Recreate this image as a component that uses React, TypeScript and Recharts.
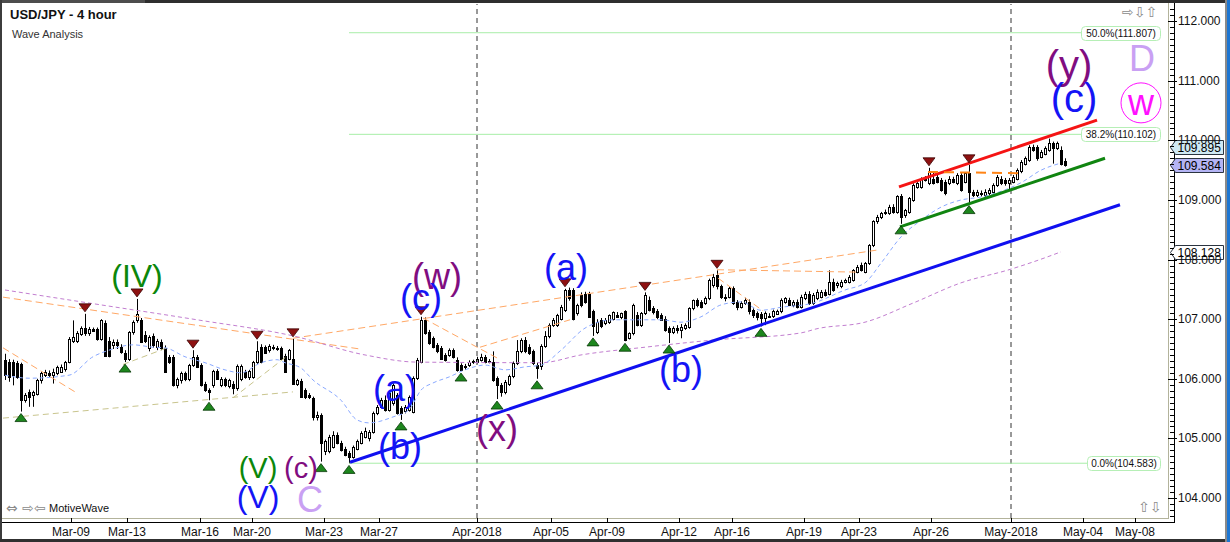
import React from 'react'
import { Bar, ComposedChart, Line, ReferenceLine, Scatter, XAxis, YAxis } from 'recharts'

// 4-hour candles, [open, high, low, close] left to right
const candles: [number, number, number, number][] = [
  [106.31, 106.42, 105.98, 106.06], [106.28, 106.33, 105.95, 106.03], [106.28, 106.32, 105.89, 106.06], [106.26, 106.3, 106.0, 106.03],
  [106.24, 106.27, 105.45, 105.64], [105.64, 105.76, 105.6, 105.73], [105.78, 105.82, 105.53, 105.7], [105.73, 105.8, 105.53, 105.78],
  [105.75, 106.0, 105.72, 105.98], [105.98, 106.12, 105.92, 106.1], [106.06, 106.15, 106.03, 106.12], [106.1, 106.14, 106.03, 106.06],
  [106.07, 106.17, 105.92, 106.12], [106.09, 106.22, 106.06, 106.2], [106.12, 106.24, 106.1, 106.2], [106.17, 106.3, 106.12, 106.28],
  [106.28, 106.7, 106.26, 106.67], [106.64, 106.98, 106.6, 106.7], [106.64, 106.8, 106.6, 106.76], [106.75, 106.88, 106.72, 106.85],
  [106.85, 107.09, 106.72, 106.76], [106.76, 106.87, 106.72, 106.84], [106.84, 106.86, 106.79, 106.81], [106.84, 106.86, 106.64, 106.67],
  [106.67, 107.0, 106.64, 106.98], [106.94, 106.98, 106.37, 106.39], [106.64, 106.7, 106.36, 106.39], [106.56, 106.66, 106.5, 106.62],
  [106.62, 106.66, 106.5, 106.56], [106.53, 106.58, 106.42, 106.45], [106.44, 106.48, 106.28, 106.34], [106.34, 106.8, 106.3, 106.78],
  [106.78, 106.98, 106.74, 106.96], [106.98, 107.34, 106.94, 107.09], [106.98, 107.02, 106.6, 106.62], [106.74, 106.8, 106.6, 106.64],
  [106.51, 106.73, 106.46, 106.7], [106.72, 106.76, 106.52, 106.56], [106.53, 106.67, 106.48, 106.64], [106.62, 106.66, 106.48, 106.51],
  [106.51, 106.56, 106.1, 106.12], [106.37, 106.4, 106.25, 106.28], [106.37, 106.4, 105.87, 105.89], [105.89, 106.02, 105.84, 106.0],
  [105.98, 106.12, 105.92, 106.09], [106.09, 106.12, 105.96, 106.0], [106.0, 106.25, 105.96, 106.23], [106.23, 106.48, 106.2, 106.37],
  [106.37, 106.4, 106.18, 106.2], [106.23, 106.26, 105.87, 105.89], [105.92, 105.95, 105.78, 105.81], [105.81, 105.84, 105.64, 105.78],
  [105.89, 106.15, 105.85, 106.13], [106.13, 106.16, 105.98, 106.0], [105.89, 106.03, 105.86, 106.0], [105.99, 106.02, 105.86, 105.89],
  [105.88, 106.0, 105.84, 105.98], [105.92, 105.96, 105.74, 105.84], [105.84, 106.24, 105.8, 106.22], [106.0, 106.24, 105.96, 106.22],
  [106.12, 106.15, 106.0, 106.03], [106.03, 106.15, 105.98, 106.13], [106.03, 106.3, 106.0, 106.28], [106.28, 106.63, 106.25, 106.46],
  [106.54, 106.58, 106.26, 106.28], [106.53, 106.56, 106.42, 106.44], [106.48, 106.58, 106.44, 106.55], [106.53, 106.57, 106.48, 106.51],
  [106.52, 106.55, 106.47, 106.5], [106.51, 106.54, 106.32, 106.34], [106.39, 106.42, 106.1, 106.12], [106.34, 106.5, 106.31, 106.48],
  [106.34, 106.67, 105.9, 105.92], [105.92, 106.0, 105.88, 105.98], [105.97, 106.0, 105.68, 105.7], [105.81, 105.84, 105.66, 105.7],
  [105.73, 105.76, 105.66, 105.7], [105.67, 105.7, 105.3, 105.36], [105.36, 105.45, 105.3, 105.4], [105.39, 105.42, 104.61, 104.92],
  [104.78, 104.98, 104.72, 104.95], [104.78, 105.06, 104.75, 105.03], [104.86, 105.12, 104.83, 105.06], [105.06, 105.1, 104.9, 104.92],
  [104.92, 104.96, 104.78, 104.81], [104.83, 104.86, 104.7, 104.72], [104.75, 104.79, 104.58, 104.69], [104.69, 104.88, 104.66, 104.86],
  [104.83, 104.98, 104.8, 104.95], [104.92, 105.12, 104.9, 105.09], [105.03, 105.18, 105.0, 105.13], [105.0, 105.14, 104.95, 105.11],
  [105.11, 105.45, 105.08, 105.42], [105.42, 105.56, 105.39, 105.53], [105.53, 105.68, 105.5, 105.65], [105.64, 105.72, 105.45, 105.48],
  [105.48, 105.78, 105.45, 105.76], [105.59, 105.92, 105.55, 105.9], [105.73, 105.76, 105.4, 105.42], [105.51, 105.54, 105.31, 105.42],
  [105.46, 105.56, 105.42, 105.53], [105.48, 105.72, 105.45, 105.7], [105.45, 106.04, 105.42, 106.01], [106.01, 106.35, 105.98, 106.32],
  [106.29, 107.04, 106.26, 106.99], [106.99, 107.03, 106.74, 106.76], [106.79, 106.82, 106.57, 106.6], [106.68, 106.71, 106.51, 106.54],
  [106.57, 106.6, 106.43, 106.46], [106.51, 106.55, 106.32, 106.34], [106.4, 106.43, 106.29, 106.32], [106.4, 106.51, 106.37, 106.48],
  [106.48, 106.51, 106.34, 106.37], [106.32, 106.36, 106.12, 106.15], [106.23, 106.26, 106.13, 106.15], [106.2, 106.25, 106.15, 106.22],
  [106.23, 106.31, 106.2, 106.28], [106.28, 106.32, 106.25, 106.3], [106.29, 106.37, 106.26, 106.34], [106.32, 106.42, 106.29, 106.37],
  [106.37, 106.4, 106.26, 106.29], [106.3, 106.33, 106.26, 106.29], [106.29, 106.46, 105.95, 105.98], [106.01, 106.04, 105.66, 105.9],
  [105.9, 105.93, 105.7, 105.78], [105.78, 105.98, 105.74, 105.95], [105.92, 106.07, 105.88, 106.04], [106.04, 106.29, 106.01, 106.26],
  [106.26, 106.65, 106.23, 106.46], [106.46, 106.68, 106.43, 106.65], [106.65, 106.7, 106.43, 106.46], [106.54, 106.58, 106.4, 106.43],
  [106.46, 106.49, 106.23, 106.26], [106.23, 106.27, 106.0, 106.18], [106.21, 106.58, 106.15, 106.55], [106.55, 106.8, 106.52, 106.71],
  [106.71, 106.93, 106.68, 106.9], [106.9, 107.02, 106.87, 106.99], [106.9, 107.09, 106.87, 107.07], [107.01, 107.24, 106.98, 107.21],
  [107.15, 107.51, 107.12, 107.49], [107.49, 107.53, 107.31, 107.35], [107.49, 107.52, 106.98, 107.01], [107.1, 107.26, 107.06, 107.24],
  [107.4, 107.45, 107.2, 107.24], [107.43, 107.46, 107.26, 107.29], [107.43, 107.46, 107.02, 107.04], [107.13, 107.16, 106.72, 106.88],
  [106.79, 107.0, 106.75, 106.96], [106.98, 107.02, 106.85, 106.88], [106.93, 107.02, 106.9, 106.99], [106.96, 107.08, 106.92, 107.07],
  [107.01, 107.13, 106.98, 107.12], [107.07, 107.12, 107.02, 107.04], [107.04, 107.11, 107.0, 107.1], [107.13, 107.15, 106.63, 106.65],
  [106.68, 106.78, 106.66, 106.76], [106.76, 107.26, 106.73, 107.24], [107.07, 107.12, 106.88, 106.9], [106.9, 107.12, 106.87, 107.1],
  [107.1, 107.45, 107.07, 107.41], [107.32, 107.38, 107.13, 107.15], [107.18, 107.22, 107.08, 107.12], [107.14, 107.17, 107.0, 107.04],
  [107.07, 107.1, 106.97, 106.99], [107.01, 107.05, 106.79, 106.82], [106.85, 106.88, 106.6, 106.79], [106.79, 106.88, 106.75, 106.85],
  [106.86, 106.9, 106.76, 106.82], [106.82, 106.92, 106.68, 106.87], [106.85, 106.93, 106.82, 106.9], [106.87, 107.2, 106.84, 107.18],
  [107.18, 107.33, 107.15, 107.32], [107.32, 107.35, 107.2, 107.24], [107.29, 107.32, 107.18, 107.21], [107.27, 107.38, 107.24, 107.35],
  [107.35, 107.68, 107.32, 107.66], [107.57, 107.76, 107.53, 107.71], [107.74, 107.82, 107.5, 107.55], [107.55, 107.58, 107.34, 107.38],
  [107.37, 107.42, 107.3, 107.35], [107.38, 107.54, 107.35, 107.52], [107.52, 107.55, 107.24, 107.27], [107.29, 107.32, 107.15, 107.21],
  [107.21, 107.3, 107.18, 107.27], [107.27, 107.36, 107.24, 107.33], [107.29, 107.33, 107.08, 107.13], [107.15, 107.18, 107.02, 107.07],
  [107.1, 107.13, 106.98, 107.04], [107.09, 107.12, 106.88, 107.02], [107.02, 107.13, 106.9, 107.1], [107.06, 107.1, 107.02, 107.05],
  [107.05, 107.16, 107.02, 107.13], [107.09, 107.16, 107.07, 107.13], [107.13, 107.35, 107.1, 107.32], [107.29, 107.37, 107.26, 107.35],
  [107.32, 107.36, 107.22, 107.24], [107.24, 107.32, 107.2, 107.29], [107.29, 107.33, 107.18, 107.21], [107.21, 107.41, 107.18, 107.38],
  [107.35, 107.46, 107.32, 107.43], [107.43, 107.47, 107.24, 107.27], [107.27, 107.44, 107.24, 107.41], [107.35, 107.5, 107.32, 107.46],
  [107.38, 107.49, 107.35, 107.46], [107.46, 107.5, 107.38, 107.4], [107.43, 107.82, 107.4, 107.63], [107.63, 107.68, 107.46, 107.49],
  [107.57, 107.63, 107.52, 107.61], [107.55, 107.66, 107.52, 107.63], [107.63, 107.68, 107.6, 107.66], [107.63, 107.74, 107.6, 107.71],
  [107.66, 107.84, 107.63, 107.82], [107.8, 107.91, 107.77, 107.88], [107.91, 107.95, 107.8, 107.82], [107.8, 107.96, 107.77, 107.94],
  [107.94, 108.26, 107.91, 108.24], [108.24, 108.66, 108.21, 108.64], [108.64, 108.75, 108.6, 108.72], [108.72, 108.8, 108.68, 108.78],
  [108.78, 108.84, 108.75, 108.8], [108.78, 108.92, 108.75, 108.89], [108.89, 108.93, 108.77, 108.8], [108.8, 109.08, 108.77, 109.06],
  [109.06, 109.1, 108.6, 108.72], [108.75, 108.85, 108.7, 108.83], [108.8, 109.05, 108.77, 109.03], [109.0, 109.28, 108.97, 109.25],
  [109.22, 109.3, 109.19, 109.28], [109.22, 109.38, 109.19, 109.36], [109.36, 109.4, 109.31, 109.34], [109.28, 109.54, 109.25, 109.48],
  [109.36, 109.48, 109.26, 109.28], [109.39, 109.42, 109.28, 109.31], [109.34, 109.37, 109.14, 109.17], [109.31, 109.34, 109.08, 109.11],
  [109.28, 109.4, 109.25, 109.36], [109.36, 109.39, 109.28, 109.31], [109.28, 109.45, 109.25, 109.42], [109.42, 109.45, 109.14, 109.17],
  [109.31, 109.47, 109.28, 109.45], [109.45, 109.59, 108.94, 109.14], [109.14, 109.17, 109.05, 109.08], [109.08, 109.17, 109.05, 109.14],
  [109.1, 109.16, 109.06, 109.12], [109.08, 109.18, 109.05, 109.14], [109.11, 109.2, 109.08, 109.17], [109.14, 109.28, 109.11, 109.25],
  [109.25, 109.42, 109.22, 109.39], [109.36, 109.4, 109.25, 109.28], [109.34, 109.37, 109.24, 109.28], [109.28, 109.37, 109.18, 109.34],
  [109.31, 109.42, 109.28, 109.39], [109.36, 109.53, 109.33, 109.5], [109.48, 109.67, 109.45, 109.64], [109.61, 109.73, 109.58, 109.7],
  [109.67, 109.92, 109.64, 109.89], [109.89, 109.93, 109.81, 109.84], [109.89, 109.92, 109.66, 109.7], [109.73, 109.84, 109.7, 109.81],
  [109.78, 109.9, 109.75, 109.87], [109.84, 110.03, 109.81, 109.95], [109.95, 109.98, 109.61, 109.87], [109.87, 109.98, 109.84, 109.95],
  [109.84, 109.9, 109.58, 109.61], [109.66, 109.7, 109.56, 109.58],
]

// moving averages, [candle index, value]
const fastMa: [number, number][] = [
  [0, 106.06], [6, 106.01], [16, 106.06], [22, 106.37], [26, 106.48], [32, 106.57], [37, 106.53], [40, 106.52], [45, 106.37],
  [50, 106.27], [55, 106.15], [59, 106.1], [64, 106.27], [68, 106.32], [70, 106.27], [74, 106.18], [77, 105.98], [84, 105.64],
  [88, 105.31], [91, 105.26], [97, 105.36], [101, 105.48], [104, 105.81], [107, 105.93], [111, 106.03], [115, 106.15], [120, 106.23],
  [125, 106.15], [130, 106.2], [134, 106.23], [139, 106.48], [145, 106.85], [152, 106.99], [158, 106.99], [164, 106.99], [169, 106.95],
  [174, 107.04], [179, 107.24], [184, 107.29], [189, 107.15], [194, 107.2], [202, 107.27], [210, 107.49], [215, 107.61], [219, 107.94],
  [224, 108.38], [229, 108.66], [234, 108.88], [239, 109.0], [244, 109.05], [250, 109.17], [254, 109.29], [259, 109.5], [264, 109.62],
]
const slowMa: [number, number][] = [
  [0, 107.49], [24, 107.24], [48, 106.99], [72, 106.72], [90, 106.4], [103, 106.28], [134, 106.27], [144, 106.4], [160, 106.53],
  [177, 106.65], [199, 106.77], [203, 106.84], [215, 106.95], [227, 107.27], [239, 107.61], [251, 107.83], [257, 107.96], [264, 108.13],
]

const swingHighs = [20, 33, 47, 63, 72, 104, 140, 160, 178, 231, 241]
const swingLows = [4, 30, 51, 79, 86, 99, 114, 123, 133, 147, 155, 166, 189, 224, 241]

const dateTicks = [16.5, 30.5, 48.75, 61.75, 79.75, 93.5, 118, 136.5, 150.5, 168.5, 181.75, 199.75, 213.5, 231.5, 251.5, 269.5, 282.5]
const dateLabels = ['Mar-09', 'Mar-13', 'Mar-16', 'Mar-20', 'Mar-23', 'Mar-27', 'Apr-2018', 'Apr-05', 'Apr-09', 'Apr-12', 'Apr-16', 'Apr-19', 'Apr-23', 'Apr-26', 'May-2018', 'May-04', 'May-08']
const monthStarts = [118, 251.5]
const priceLabels = [104, 105, 106, 107, 108, 109, 110, 111, 112]

const fibNames = ['50.0%', '38.2%', '0.0%']
const fibValues = [111.807, 110.102, 104.583]
const fibFrom = 86
const fibTo = [269, 269, 270.5]

// wave trend lines, [[index, price], [index, price]]
const baseLine: [number, number][] = [[86.25, 104.6], [278.75, 108.92]]
const upperLine: [number, number][] = [[223.5, 109.22], [273, 110.34]]
const lowerLine: [number, number][] = [[223.75, 108.55], [275, 109.7]]
const pivotLine: [number, number][] = [[230.75, 109.47], [254.2, 109.45]]
const orangeGuides: [number, number][][] = [
  [[-0.5, 107.37], [88.75, 106.5]],
  [[72, 106.68], [218, 108.16]],
  [[178, 107.83], [213, 107.79]],
  [[-0.5, 106.52], [18, 105.76]],
  [[104.5, 107.02], [123, 106.35]],
  [[118.75, 106.53], [141.25, 106.99]],
  [[178.25, 107.69], [189.5, 107.14]],
]
const khakiGuides: [number, number][][] = [
  [[-0.5, 105.34], [72, 105.78]],
  [[29.5, 106.24], [40.5, 106.52]],
  [[57, 105.68], [70.5, 106.38]],
]

const waveLabels = [
  { text: '(IV)', i: 33, p: 107.72, tone: 'green', size: 'm' },
  { text: '(w)', i: 108, p: 107.72, tone: 'purple', size: 'l' },
  { text: '(c)', i: 104, p: 107.37, tone: 'blue', size: 'l' },
  { text: '(a)', i: 97.5, p: 105.83, tone: 'blue', size: 'l' },
  { text: '(b)', i: 98.75, p: 104.86, tone: 'blue', size: 'l' },
  { text: '(x)', i: 123, p: 105.17, tone: 'purple', size: 'l' },
  { text: '(a)', i: 140.25, p: 107.86, tone: 'blue', size: 'l' },
  { text: '(b)', i: 169, p: 106.15, tone: 'blue', size: 'l' },
  { text: '(V)', i: 63.25, p: 104.5, tone: 'green', size: 's' },
  { text: '(c)', i: 74, p: 104.5, tone: 'purple', size: 's' },
  { text: '(V)', i: 63.25, p: 104.02, tone: 'blue', size: 'm' },
  { text: 'C', i: 76.25, p: 103.98, tone: 'lilac', size: 'l' },
  { text: '(y)', i: 266, p: 111.27, tone: 'purple', size: 'xl' },
  { text: 'D', i: 284.25, p: 111.38, tone: 'lilac', size: 'l' },
  { text: '(c)', i: 267.25, p: 110.71, tone: 'blue', size: 'xl' },
  { text: 'w', i: 284, p: 110.63, tone: 'magenta', size: 'l' },
]
const toneColors: Record<string, string> = {
  green: '#0b870b', blue: '#1414f5', purple: '#800d80', lilac: '#c9a0f3', magenta: '#ff10ff',
}
const fontSizes: Record<string, number> = { s: 29, m: 32, l: 36, xl: 40 }

const rows = candles.map((c, i) => {
  const f = fastMa.find((m) => m[0] === i)
  const s = slowMa.find((m) => m[0] === i)
  return { i, range: [c[2], c[1]], ohlc: c, fast: f ? f[1] : undefined, slow: s ? s[1] : undefined }
})
const highMarks = swingHighs.map((i) => ({ i, p: candles[i][1] }))
const lowMarks = swingLows.map((i) => ({ i, p: candles[i][2] }))
const priceTicks: number[] = []
for (let k = 1037; k <= 1122; k++) priceTicks.push(k / 10)

const seg = (s: [number, number][]) => s.map(([x, y]) => ({ x, y }))

function Candle(props: any) {
  const { x, y, width, height, payload } = props
  if (!payload) return null
  const [o, h, l, c] = payload.ohlc
  const cx = Math.round(x + width / 2) + 0.5
  const py = (v: number) => y + ((h - v) / (h - l)) * height
  const top = Math.round(py(Math.max(o, c))) + 0.5
  const bot = Math.max(Math.round(py(Math.min(o, c))) + 0.5, top + 1)
  return (
    <g>
      <line x1={cx} x2={cx} y1={y} y2={y + height} stroke="#000" />
      <rect x={cx - 1} y={top} width={2} height={bot - top} fill={c >= o ? '#fff' : '#000'} stroke="#000" />
    </g>
  )
}

const HighMark = ({ cx, cy }: any) => (
  <path d={`M${cx - 6},${cy - 10} L${cx + 6},${cy - 10} L${cx},${cy - 2} Z`} fill="#8e1111" stroke="#3b0505" strokeWidth={0.8} />
)
const LowMark = ({ cx, cy }: any) => (
  <path d={`M${cx - 6},${cy + 10} L${cx + 6},${cy + 10} L${cx},${cy + 2} Z`} fill="#1d861d" stroke="#073807" strokeWidth={0.8} />
)

const WaveText = ({ cx, cy, payload }: any) => {
  const color = toneColors[payload.tone]
  return (
    <g>
      {payload.tone === 'magenta' && <circle cx={cx} cy={cy} r={20} fill="none" stroke={color} strokeWidth={1} />}
      <text x={cx} y={cy} textAnchor="middle" dominantBaseline="central" fontSize={fontSizes[payload.size]} fill={color}>
        {payload.text}
      </text>
    </g>
  )
}

const FibTag = ({ viewBox, text }: any) => {
  if (!viewBox) return null
  const x = Math.round(viewBox.x + viewBox.width) + 0.5
  const y = Math.round(viewBox.y) + 0.5
  const w = Math.round(text.length * 5.65)
  return (
    <g>
      <rect x={x} y={y - 7} width={w} height={14} rx={4} fill="#fff" stroke="#b6efb6" />
      <text x={x + w / 2} y={y} textAnchor="middle" dominantBaseline="central" fontSize={10} fill="#111">{text}</text>
    </g>
  )
}

const PriceTag = ({ viewBox, text, fill }: any) => {
  if (!viewBox) return null
  const x = Math.round(viewBox.x + viewBox.width) + 2.5
  const y = Math.round(viewBox.y) + 0.5
  return (
    <g>
      <path d={`M${x},${y} L${x + 5},${y - 7} L${x + 53},${y - 7} L${x + 53},${y + 7} L${x + 5},${y + 7} Z`} fill={fill} stroke="#2b3440" />
      <text x={x + 7} y={y + 0.5} dominantBaseline="central" fontSize={12} fill="#000">{text}</text>
    </g>
  )
}

const DateTick = ({ x, y, payload }: any) => {
  const k = dateTicks.indexOf(payload.value)
  const tx = Math.round(x) + 0.5
  return (
    <g>
      <line x1={tx} x2={tx} y1={y} y2={y + 5} stroke="#000" />
      <text x={x} y={y + 14} textAnchor="middle" dominantBaseline="central" fontSize={12} fill="#111">{dateLabels[k]}</text>
    </g>
  )
}

const PriceTick = ({ x, y, payload }: any) => {
  const v = payload.value
  const major = priceLabels.includes(v)
  const ty = Math.round(y) + 0.5
  return (
    <g>
      <line x1={major ? x : x + 2} x2={major ? x + 9 : x + 6} y1={ty} y2={ty} stroke="#000" />
      {major && (
        <text x={x + 10} y={y} dominantBaseline="central" fontSize={12} fill="#111">{v.toFixed(3)}</text>
      )}
    </g>
  )
}

const box = (s: React.CSSProperties): React.CSSProperties => ({ position: 'absolute', ...s })
const icon: React.CSSProperties = { fontSize: 14, lineHeight: '16px', color: '#8a8a8a', fontFamily: '"DejaVu Sans"', zIndex: 2, whiteSpace: 'nowrap' }

export default function App() {
  return (
    <div style={{ position: 'absolute', left: 0, top: 0, width: 1230, height: 542, background: '#fff', overflow: 'hidden', fontFamily: '"Liberation Sans", Arial, sans-serif' }}>
      <div style={box({ left: 1168, top: 3, width: 1, height: 516, background: '#b3b39b' })} />
      <div style={box({ left: 2, top: 518, width: 1167, height: 1, background: '#b3b39b' })} />
      <div style={box({ left: 1174, top: 3, width: 1, height: 520, background: '#000' })} />
      <div style={box({ left: 2, top: 522, width: 1173, height: 1, background: '#000' })} />
      <div style={box({ left: 0, top: 0, zIndex: 1 })}>
        <ComposedChart width={1230} height={542} data={rows} margin={{ top: 4, right: 4, bottom: 4, left: 2 }}>
          <XAxis dataKey="i" type="number" domain={[-0.75, 290.75]} allowDataOverflow ticks={dateTicks} interval={0}
            height={20} axisLine={false} tickLine={false} tickSize={0} tickMargin={0} tick={<DateTick />} />
          <YAxis orientation="right" type="number" domain={[103.664, 112.289]} allowDataOverflow ticks={priceTicks} interval={0}
            width={58} axisLine={false} tickLine={false} tickSize={0} tickMargin={0} tick={<PriceTick />} />
          {monthStarts.map((m) => (
            <ReferenceLine key={m} x={m} stroke="#333" strokeDasharray="5 4" ifOverflow="visible" />
          ))}
          {fibValues.map((v, k) => (
            <ReferenceLine key={v} segment={[{ x: fibFrom, y: v }, { x: fibTo[k], y: v }]} stroke="#a8eea8" ifOverflow="visible"
              label={(p: any) => <FibTag {...p} text={`${fibNames[k]}(${v.toFixed(3)})`} />} />
          ))}
          {khakiGuides.map((g, k) => (
            <ReferenceLine key={'k' + k} segment={seg(g)} stroke="#c9c58e" strokeDasharray="6 4" ifOverflow="visible" />
          ))}
          {orangeGuides.map((g, k) => (
            <ReferenceLine key={'o' + k} segment={seg(g)} stroke="#ffa866" strokeDasharray="7 4" ifOverflow="visible" />
          ))}
          <Line dataKey="slow" type="monotone" connectNulls dot={false} stroke="#c27ed0" strokeDasharray="4 3" strokeWidth={1} isAnimationActive={false} />
          <Line dataKey="fast" type="monotone" connectNulls dot={false} stroke="#8aa9ff" strokeDasharray="4 3" strokeWidth={1} isAnimationActive={false} />
          <Bar dataKey="range" barSize={3} shape={<Candle />} isAnimationActive={false} />
          <ReferenceLine segment={seg(baseLine)} stroke="#1010f0" strokeWidth={3} ifOverflow="visible" />
          <ReferenceLine segment={seg(upperLine)} stroke="#f51414" strokeWidth={3} ifOverflow="visible" />
          <ReferenceLine segment={seg(lowerLine)} stroke="#108510" strokeWidth={3} ifOverflow="visible" />
          <ReferenceLine segment={seg(pivotLine)} stroke="#ff8415" strokeWidth={2} strokeDasharray="10 6" ifOverflow="visible" />
          <Scatter data={highMarks} dataKey="p" shape={<HighMark />} isAnimationActive={false} />
          <Scatter data={lowMarks} dataKey="p" shape={<LowMark />} isAnimationActive={false} />
          <Scatter data={waveLabels} dataKey="p" shape={<WaveText />} isAnimationActive={false} />
          <ReferenceLine y={108.128} stroke="none" ifOverflow="visible" label={(p: any) => <PriceTag {...p} text="108.128" fill="#fff" />} />
          <ReferenceLine y={109.895} stroke="none" ifOverflow="visible" label={(p: any) => <PriceTag {...p} text="109.895" fill="#cfe9f3" />} />
          <ReferenceLine y={109.584} stroke="none" ifOverflow="visible" label={(p: any) => <PriceTag {...p} text="109.584" fill="#b4b4f4" />} />
        </ComposedChart>
      </div>
      <div style={box({ left: 10, top: 8, fontSize: 13, fontWeight: 'bold', lineHeight: '14px', color: '#111', zIndex: 2 })}>USD/JPY - 4 hour</div>
      <div style={box({ left: 12, top: 28, fontSize: 11, lineHeight: '12px', color: '#333', zIndex: 2 })}>Wave Analysis</div>
      <div style={box({ left: 6, top: 500, ...icon })}>⇔ ⇨⇦</div>
      <div style={box({ left: 49, top: 502, fontSize: 11, lineHeight: '12px', color: '#111', zIndex: 2 })}>MotiveWave</div>
      <div style={box({ left: 1122, top: 4, ...icon })}>⇨⇩⇧</div>
      <div style={box({ left: 1138, top: 499, ...icon })}>⇧⇩</div>
      <div style={box({ left: 0, top: 0, width: 1230, height: 3, background: '#2e2e2e', zIndex: 3 })} />
      <div style={box({ left: 0, top: 0, width: 145, height: 3, background: '#4d4d4d', zIndex: 3 })} />
      <div style={box({ left: 0, top: 0, width: 2, height: 542, background: '#3c3c3c', zIndex: 3 })} />
      <div style={box({ left: 0, top: 539, width: 1230, height: 3, background: '#303030', zIndex: 3 })} />
      <div style={box({ left: 1225, top: 0, width: 2, height: 542, background: '#8a8a8a', zIndex: 3 })} />
      <div style={box({ left: 1227, top: 0, width: 3, height: 542, background: '#1d76d2', zIndex: 3 })} />
    </div>
  )
}
